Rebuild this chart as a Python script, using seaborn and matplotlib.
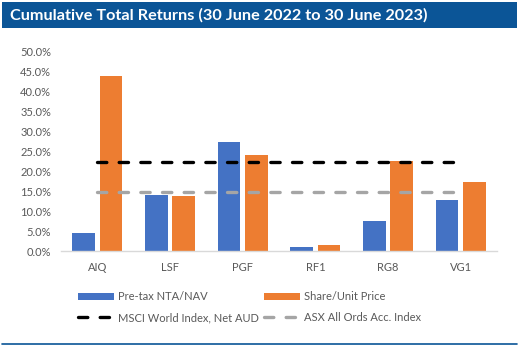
import numpy as np
import pandas as pd
import matplotlib
matplotlib.use("Agg")
import matplotlib.pyplot as plt
from matplotlib.patches import Rectangle, Patch
from matplotlib.lines import Line2D
from matplotlib.ticker import FuncFormatter
import seaborn as sns

categories = ["AIQ", "LSF", "PGF", "RF1", "RG8", "VG1"]
nta_values = [4.4, 14.0, 27.3, 0.9, 7.5, 12.9]
price_values = [44.0, 13.8, 24.2, 1.4, 22.6, 17.3]
msci_value = 22.4
asx_value = 14.75
series_names = ["Pre-tax NTA/NAV", "Share/Unit Price"]
msci_label = "MSCI World Index, Net AUD"
asx_label = "ASX All Ords Acc. Index"
title = "Cumulative Total Returns (30 June 2022 to 30 June 2023)"

sns.set_theme(style="white")
plt.rcParams["font.family"] = ["Lato", "DejaVu Sans"]

W, H = 520, 349
fig = plt.figure(figsize=(W / 100, H / 100), dpi=100)
fig.patch.set_facecolor("white")

def fx(px):
    return px / W

def fy(py):
    return 1 - py / H

# Title bar
title_blue = "#0B5597"
fig.patches.append(Rectangle((fx(2), fy(28)), fx(515), 26 / H, transform=fig.transFigure,
                             facecolor=title_blue, edgecolor="none", zorder=0))
fig.text(fx(10), fy(15.5), title, color="white", fontsize=11.7, fontweight="bold",
         va="center", ha="left")
fig.lines.append(Line2D([fx(2), fx(517)], [fy(344), fy(344)], transform=fig.transFigure,
                        color=title_blue, linewidth=1.2))

ax = fig.add_axes([fx(61), fy(251), fx(497 - 61), (251 - 51.7) / H])

df = pd.DataFrame({
    "Fund": categories * 2,
    "Series": [series_names[0]] * len(categories) + [series_names[1]] * len(categories),
    "Return": [v / 100 for v in nta_values] + [v / 100 for v in price_values],
})
palette = {series_names[0]: "#4472C4", series_names[1]: "#ED7D31"}
sns.barplot(data=df, x="Fund", y="Return", hue="Series", order=categories,
            hue_order=series_names, palette=palette, width=0.76, gap=0.18,
            saturation=1, ax=ax, legend=False, edgecolor="none")

xpos = np.arange(len(categories))
ax.plot(xpos, np.full(len(categories), msci_value / 100), color="black", linewidth=2.4,
        dashes=(2.8, 3.7), dash_capstyle="round", zorder=5)
ax.plot(xpos, np.full(len(categories), asx_value / 100), color="#A5A5A5", linewidth=2.4,
        dashes=(2.8, 3.7), dash_capstyle="round", zorder=5)

ax.set_xlim(-0.5, len(categories) - 0.5)
ax.set_ylim(0, 0.5)
ax.set_yticks(np.arange(0, 0.501, 0.05))
ax.yaxis.set_major_formatter(FuncFormatter(lambda v, p: f"{v * 100:.1f}%"))
ax.set_xlabel("")
ax.set_ylabel("")
for s in ["top", "right", "left"]:
    ax.spines[s].set_visible(False)
ax.spines["bottom"].set_color("#D9D9D9")
ax.spines["bottom"].set_linewidth(1)
ax.tick_params(axis="y", length=0, pad=7, labelsize=8, labelcolor="#595959")
ax.tick_params(axis="x", length=0, pad=8, labelsize=8, labelcolor="#595959")
ax.set_facecolor("none")

handles = [
    Patch(facecolor="#4472C4", edgecolor="none", label=series_names[0]),
    Line2D([0], [0], color="black", linewidth=2.4, dashes=(2.8, 3.7), dash_capstyle="round", label=msci_label),
    Patch(facecolor="#ED7D31", edgecolor="none", label=series_names[1]),
    Line2D([0], [0], color="#A5A5A5", linewidth=2.4, dashes=(2.8, 3.7), dash_capstyle="round", label=asx_label),
]
leg = fig.legend(handles=handles, ncol=2, loc="center left", bbox_to_anchor=(fx(74), fy(307)),
                 frameon=False, fontsize=8, handlelength=3.2, handleheight=0.6,
                 columnspacing=0.45, handletextpad=0.4, labelspacing=0.9, borderaxespad=0)
for t in leg.get_texts():
    t.set_color("#595959")

fig.savefig("out.png", dpi=100)
